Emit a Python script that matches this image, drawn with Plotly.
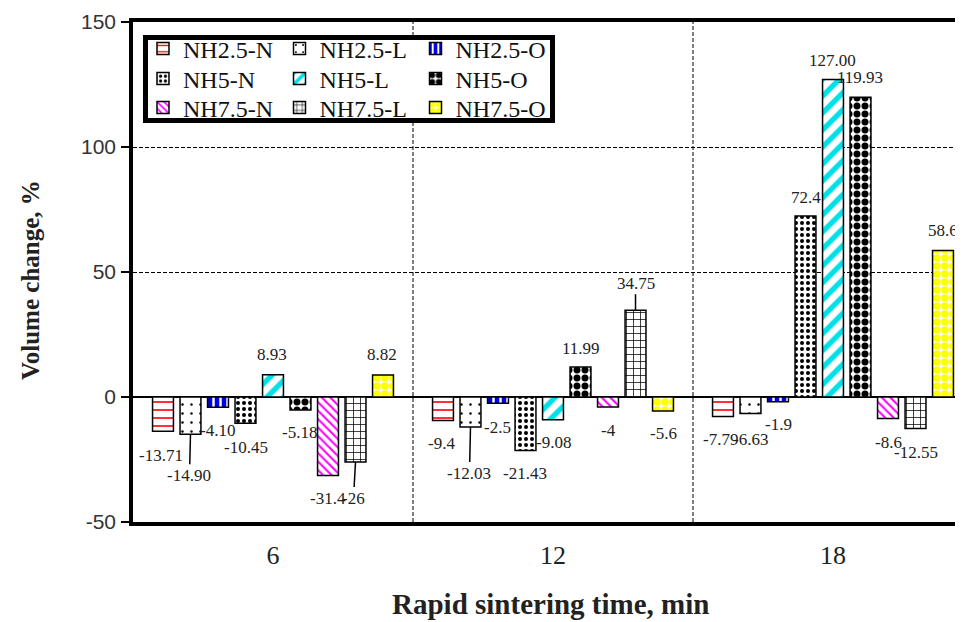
import plotly.graph_objects as go

# ---------------- data ----------------
categories = ["6", "12", "18"]          # rapid sintering time, min
cat_pos = [0, 1, 2]

series_names = ["NH2.5-N", "NH2.5-L", "NH2.5-O",
                "NH5-N", "NH5-L", "NH5-O",
                "NH7.5-N", "NH7.5-L", "NH7.5-O"]

nh25_n = [-13.71, -9.4, -7.79]
nh25_l = [-14.90, -12.03, -6.63]
nh25_o = [-4.10, -2.5, -1.9]
nh5_n = [-10.45, -21.43, 72.4]
nh5_l = [8.93, -9.08, 127.00]
nh5_o = [-5.18, 11.99, 119.93]
nh75_n = [-31.4, -4, -8.6]
nh75_l = [-26, 34.75, -12.55]
nh75_o = [8.82, -5.6, 58.6]

lbl_nh25_n = ["-13.71", "-9.4", "-7.79"]
lbl_nh25_l = ["-14.90", "-12.03", "-6.63"]
lbl_nh25_o = ["-4.10", "-2.5", "-1.9"]
lbl_nh5_n = ["-10.45", "-21.43", "72.4"]
lbl_nh5_l = ["8.93", "-9.08", "127.00"]
lbl_nh5_o = ["-5.18", "11.99", "119.93"]
lbl_nh75_n = ["-31.4", "-4", "-8.6"]
lbl_nh75_l = ["-26", "34.75", "-12.55"]
lbl_nh75_o = ["8.82", "-5.6", "58.6"]

y_ticks = [-50, 0, 50, 100, 150]
y_tick_text = ["-50", "0", "50", "100", "150"]

values = [nh25_n, nh25_l, nh25_o, nh5_n, nh5_l, nh5_o, nh75_n, nh75_l, nh75_o]
labels = [lbl_nh25_n, lbl_nh25_l, lbl_nh25_o, lbl_nh5_n, lbl_nh5_l, lbl_nh5_o,
          lbl_nh75_n, lbl_nh75_l, lbl_nh75_o]

# ---------------- styles ----------------
patterns = [
    dict(shape="-", fgcolor="#ff0000", bgcolor="white", size=8, solidity=0.2),
    dict(shape=".", fgcolor="black", bgcolor="white", size=9, solidity=0.06),
    dict(shape="|", fgcolor="white", bgcolor="#0000ee", size=7, solidity=0.35),
    dict(shape=".", fgcolor="black", bgcolor="white", size=6, solidity=0.35),
    dict(shape="/", fgcolor="#00e0e8", bgcolor="white", size=12, solidity=0.45),
    dict(shape=".", fgcolor="black", bgcolor="white", size=8, solidity=0.6),
    dict(shape="\\", fgcolor="#ff00ff", bgcolor="white", size=6, solidity=0.35),
    dict(shape="+", fgcolor="black", bgcolor="white", size=7, solidity=0.2),
    dict(shape=".", fgcolor="#ffff00", bgcolor="white", size=8, solidity=0.7),
]

# label offsets in pixels (dx, dy downward, leader line?) per series per category
label_offsets = [
    [(-2, 24, False), (-1, 22.5, False), (-2, 23.5, False)],
    [(-1, 41, True), (-1, 46, True), (0, 26, False)],
    [(-1, 23, False), (-1, 24, False), (0, 23, False)],
    [(0, 24, False), (-1, 22.5, False), (0, -19, False)],
    [(-1, -20, False), (0, 23, False), (-1, -19.5, False)],
    [(-1, 23, False), (0, -19, False), (-1, -20, False)],
    [(0, 22.5, False), (0, 23, False), (0, 23.5, False)],
    [(-2, 36, True), (0, -27, True), (0.5, 24, False)],
    [(-1, -20, False), (0, 22, False), (0, -20, False)],
]

# page offset of the figure (body margin)
OFF = 8
W, H = 963, 622
ML, MR, MT = 133 - OFF, 0, 22 - OFF
PH = 500
MB = H - MT - PH
PW = W - ML - MR
CAT_PX = 280.0
BARGAP = 0.116
SLOT = (1 - BARGAP) / 9


def paper_x(page_x):
    return (page_x - OFF - ML) / PW


def paper_y(page_y):
    return (MT + PH - (page_y - OFF)) / PH


# legend swatch centre positions (page pixels)
legend_px = [(163, 49), (299.5, 49), (435.5, 49),
             (163, 79), (299.5, 79), (435.5, 79),
             (163, 108), (299.5, 108), (435.5, 108)]

SERIF = "Liberation Serif, Times New Roman, serif"
GRID_DASH = "4px,2px"

fig = go.Figure()
for j, name in enumerate(series_names):
    pat = patterns[j]
    lg = "legend" if j == 0 else f"legend{j+1}"
    fig.add_trace(go.Bar(
        x=cat_pos, y=values[j], name=name, legend=lg,
        marker=dict(color=pat["bgcolor"], line=dict(color="black", width=1.5),
                    pattern=dict(shape=pat["shape"], fgcolor=pat["fgcolor"],
                                 bgcolor=pat["bgcolor"], size=pat["size"],
                                 solidity=pat["solidity"], fillmode="replace")),
    ))

annotations = []
for j in range(9):
    for i in range(3):
        v = values[j][i]
        xpos = cat_pos[i] + (j - 4) * SLOT
        dx, dy, lead = label_offsets[j][i]
        font = dict(family=SERIF, size=17, color="#222222")
        if lead:
            annotations.append(dict(x=xpos, y=v, xref="x", yref="y", text=labels[j][i],
                                    showarrow=True, arrowhead=0, arrowwidth=1.5,
                                    arrowcolor="black", ax=dx, ay=dy, font=font))
        else:
            annotations.append(dict(x=xpos, y=v, xref="x", yref="y", text=labels[j][i],
                                    showarrow=False, xshift=dx, yshift=-dy, font=font))

# axis titles
annotations.append(dict(x=paper_x(30), y=paper_y(280), xref="paper", yref="paper",
                        text="<b>Volume change, %</b>", textangle=-90, showarrow=False,
                        xanchor="center", yanchor="middle",
                        font=dict(family=SERIF, size=25, color="#222222")))
annotations.append(dict(x=paper_x(550), y=paper_y(604), xref="paper", yref="paper",
                        text="<b>Rapid sintering time, min</b>", showarrow=False,
                        xanchor="center", yanchor="middle",
                        font=dict(family=SERIF, size=29, color="#222222")))

shapes = []
for b in [0.5, 1.5]:
    shapes.append(dict(type="line", xref="x", yref="paper", x0=b, x1=b, y0=0, y1=1,
                       line=dict(color="black", width=1, dash=GRID_DASH), layer="below"))
# legend frame
shapes.append(dict(type="rect", xref="paper", yref="paper",
                   x0=paper_x(145.5), x1=paper_x(552.5),
                   y0=paper_y(120.5), y1=paper_y(37.5),
                   line=dict(color="black", width=5), fillcolor="white", layer="above"))

layout_legends = {}
for j in range(9):
    px, py = legend_px[j]
    key = "legend" if j == 0 else f"legend{j+1}"
    layout_legends[key] = dict(
        x=paper_x(px - 20), y=paper_y(py), xanchor="left", yanchor="middle",
        bgcolor="rgba(0,0,0,0)", borderwidth=0, orientation="h",
        font=dict(family=SERIF, size=24, color="#111111"), itemwidth=30,
    )

fig.update_layout(
    width=W, height=H,
    margin=dict(l=ML, r=MR, t=MT, b=MB, autoexpand=False),
    paper_bgcolor="white", plot_bgcolor="white",
    barmode="group", bargap=BARGAP, bargroupgap=0.24,
    showlegend=True,
    annotations=annotations, shapes=shapes,
    xaxis=dict(range=[-0.5, -0.5 + PW / CAT_PX], tickvals=cat_pos, ticktext=categories,
               showgrid=False, zeroline=False, showline=True, linewidth=4,
               linecolor="black", mirror=True, ticks="", ticklabelstandoff=7,
               tickfont=dict(family=SERIF, size=26, color="#222222")),
    yaxis=dict(range=[-50, 150], tickvals=y_ticks, ticktext=y_tick_text,
               showgrid=True, griddash=GRID_DASH,
               gridcolor="black", gridwidth=1, zeroline=True, zerolinecolor="black",
               zerolinewidth=1.5, showline=True, linewidth=3.5, linecolor="black",
               mirror=False, ticks="outside", ticklen=8, tickwidth=1.5, tickcolor="black",
               ticklabelstandoff=1,
               tickfont=dict(family="Liberation Sans, Arial, sans-serif", size=21,
                             color="#333333")),
    **layout_legends,
)

fig.write_html("out.html")
